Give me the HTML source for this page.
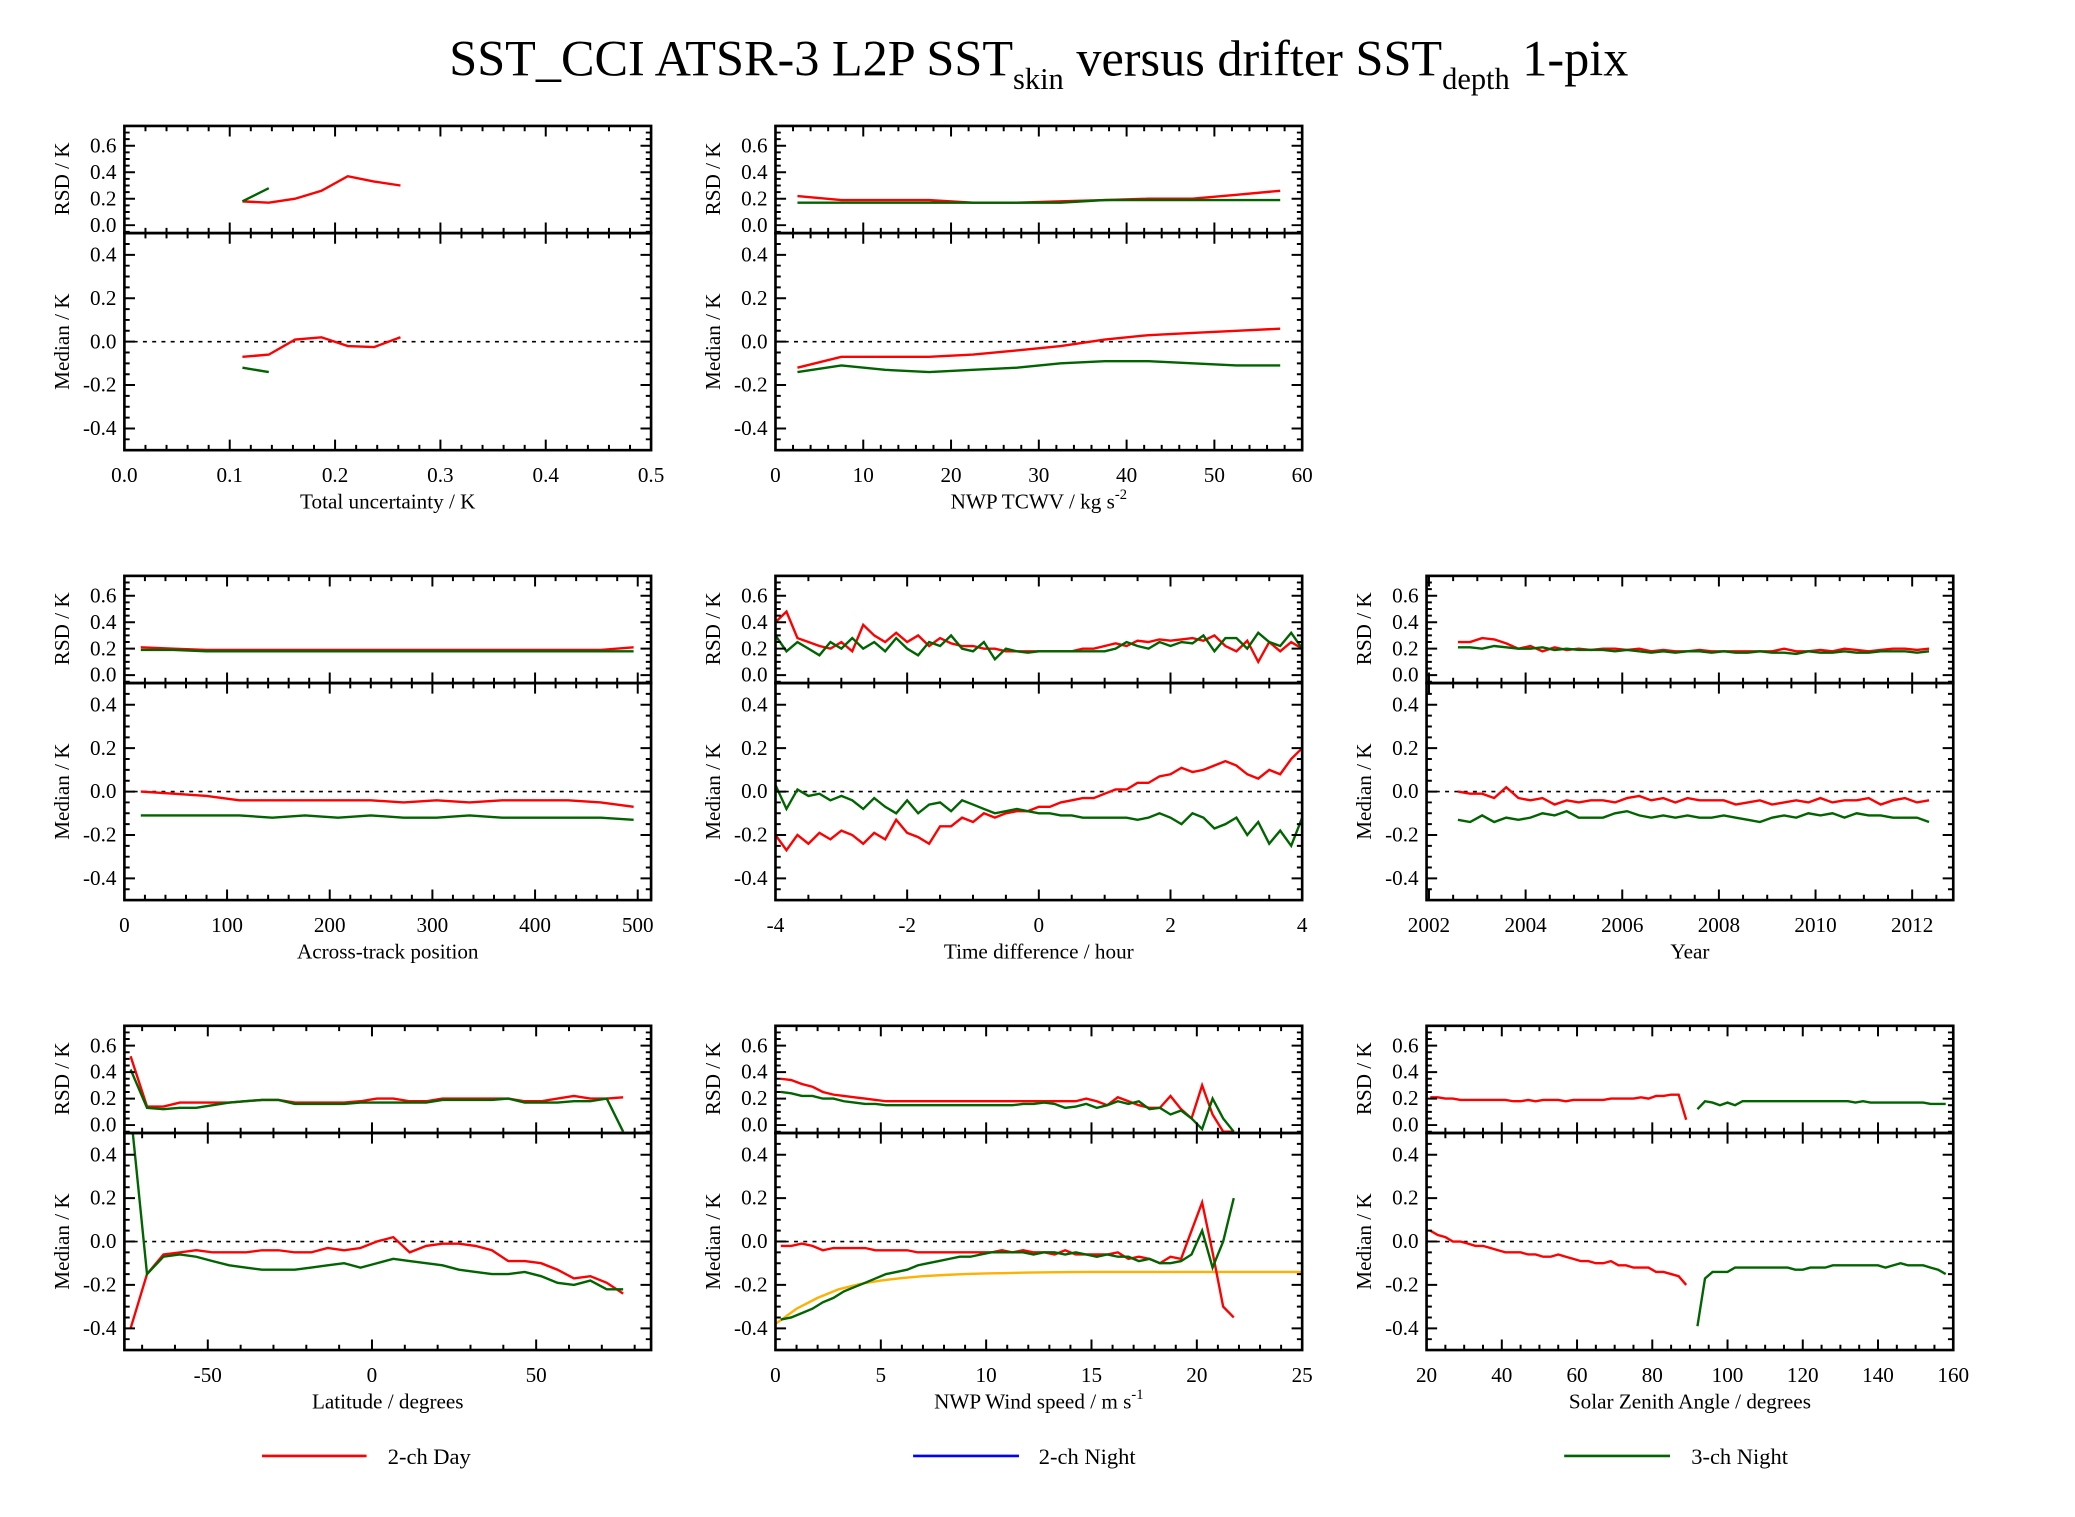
<!DOCTYPE html>
<html><head><meta charset="utf-8"><style>
html,body{margin:0;padding:0;background:#fff}
svg{display:block}
text{font-family:"Liberation Serif",serif;fill:#000}
</style></head><body>
<svg id="fig" xmlns="http://www.w3.org/2000/svg" width="2075" height="1517" viewBox="0 0 1568 1146">
<rect width="1568" height="1146" fill="#fff"/>
<text x="785" y="57" text-anchor="middle" font-size="38">SST_CCI ATSR-3 L2P SST<tspan font-size="23" dy="10">skin</tspan><tspan dy="-10"> versus drifter SST</tspan><tspan font-size="23" dy="10">depth</tspan><tspan dy="-10"> 1-pix</tspan></text>
<g id="panels"></g>
<g>
<line x1="198" y1="1100" x2="277" y2="1100" stroke="#f00" stroke-width="2"/>
<text x="293" y="1106" font-size="17">2-ch Day</text>
<line x1="690" y1="1100" x2="770" y2="1100" stroke="#00f" stroke-width="2"/>
<text x="785" y="1106" font-size="17">2-ch Night</text>
<line x1="1182" y1="1100" x2="1262" y2="1100" stroke="#006400" stroke-width="2"/>
<text x="1278" y="1106" font-size="17">3-ch Night</text>
</g>
</svg>
<script>
// ---- data ----
const uncX=[0.112,0.137,0.162,0.187,0.212,0.237,0.262];
const uncRedRsd=[0.18,0.17,0.20,0.26,0.37,0.33,0.30];
const uncRedMed=[-0.07,-0.06,0.01,0.02,-0.02,-0.025,0.02];
const uncGrnX=[0.112,0.137];
const uncGrnRsd=[0.18,0.28];
const uncGrnMed=[-0.12,-0.14];

const tcwvX=[2.5,7.5,12.5,17.5,22.5,27.5,32.5,37.5,42.5,47.5,52.5,57.5];
const tcwvRedRsd=[0.22,0.19,0.19,0.19,0.17,0.17,0.18,0.19,0.2,0.2,0.23,0.26];
const tcwvGrnRsd=[0.17,0.17,0.17,0.17,0.17,0.17,0.17,0.19,0.19,0.19,0.19,0.19];
const tcwvRedMed=[-0.12,-0.07,-0.07,-0.07,-0.06,-0.04,-0.02,0.01,0.03,0.04,0.05,0.06];
const tcwvGrnMed=[-0.14,-0.11,-0.13,-0.14,-0.13,-0.12,-0.10,-0.09,-0.09,-0.10,-0.11,-0.11];

const atX=[16,48,80,112,144,176,208,240,272,304,336,368,400,432,464,496];
const atRedRsd=[0.21,0.2,0.19,0.19,0.19,0.19,0.19,0.19,0.19,0.19,0.19,0.19,0.19,0.19,0.19,0.21];
const atGrnRsd=[0.19,0.19,0.18,0.18,0.18,0.18,0.18,0.18,0.18,0.18,0.18,0.18,0.18,0.18,0.18,0.18];
const atRedMed=[0,-0.01,-0.02,-0.04,-0.04,-0.04,-0.04,-0.04,-0.05,-0.04,-0.05,-0.04,-0.04,-0.04,-0.05,-0.07];
const atGrnMed=[-0.11,-0.11,-0.11,-0.11,-0.12,-0.11,-0.12,-0.11,-0.12,-0.12,-0.11,-0.12,-0.12,-0.12,-0.12,-0.13];

const tdRedMed=[-0.2,-0.27,-0.2,-0.24,-0.19,-0.22,-0.18,-0.2,-0.24,-0.19,-0.22,-0.13,-0.19,-0.21,-0.24,-0.16,-0.16,-0.12,-0.14,-0.10,-0.12,-0.10,-0.09,-0.09,-0.07,-0.07,-0.05,-0.04,-0.03,-0.03,-0.01,0.01,0.01,0.04,0.04,0.07,0.08,0.11,0.09,0.10,0.12,0.14,0.12,0.08,0.06,0.10,0.08,0.15,0.20];
const tdGrnMed=[0.03,-0.08,0.01,-0.02,-0.01,-0.04,-0.02,-0.04,-0.08,-0.03,-0.07,-0.10,-0.04,-0.10,-0.06,-0.05,-0.09,-0.04,-0.06,-0.08,-0.10,-0.09,-0.08,-0.09,-0.10,-0.10,-0.11,-0.11,-0.12,-0.12,-0.12,-0.12,-0.12,-0.13,-0.12,-0.10,-0.12,-0.15,-0.10,-0.12,-0.17,-0.15,-0.12,-0.20,-0.14,-0.24,-0.18,-0.25,-0.12];
const tdRedRsd=[0.4,0.48,0.28,0.25,0.22,0.20,0.25,0.18,0.38,0.30,0.25,0.32,0.25,0.30,0.22,0.28,0.24,0.22,0.22,0.2,0.2,0.18,0.18,0.18,0.18,0.18,0.18,0.18,0.2,0.2,0.22,0.24,0.22,0.26,0.25,0.27,0.26,0.27,0.28,0.26,0.30,0.22,0.18,0.26,0.10,0.25,0.18,0.25,0.2];
const tdGrnRsd=[0.3,0.18,0.25,0.2,0.15,0.25,0.2,0.28,0.2,0.25,0.18,0.28,0.2,0.15,0.25,0.22,0.3,0.2,0.18,0.25,0.12,0.2,0.18,0.17,0.18,0.18,0.18,0.18,0.18,0.18,0.18,0.2,0.25,0.22,0.2,0.25,0.22,0.25,0.24,0.3,0.18,0.28,0.28,0.2,0.32,0.25,0.22,0.32,0.2];
const tdX=tdRedMed.map((_,i)=>-4+8*i/(tdRedMed.length-1));

const yrX=[];for(let i=0;i<40;i++)yrX.push(2002.6+0.25*i);
const yrRedMed=[0.0,-0.01,-0.01,-0.03,0.02,-0.03,-0.04,-0.03,-0.06,-0.04,-0.05,-0.04,-0.04,-0.05,-0.03,-0.02,-0.04,-0.03,-0.05,-0.03,-0.04,-0.04,-0.04,-0.06,-0.05,-0.04,-0.06,-0.05,-0.04,-0.05,-0.03,-0.05,-0.04,-0.04,-0.03,-0.06,-0.04,-0.03,-0.05,-0.04];
const yrGrnMed=[-0.13,-0.14,-0.11,-0.14,-0.12,-0.13,-0.12,-0.10,-0.11,-0.09,-0.12,-0.12,-0.12,-0.10,-0.09,-0.11,-0.12,-0.11,-0.12,-0.11,-0.12,-0.12,-0.11,-0.12,-0.13,-0.14,-0.12,-0.11,-0.12,-0.10,-0.11,-0.10,-0.12,-0.10,-0.11,-0.11,-0.12,-0.12,-0.12,-0.14];
const yrRedRsd=[0.25,0.25,0.28,0.27,0.24,0.2,0.22,0.18,0.21,0.19,0.2,0.19,0.2,0.2,0.19,0.2,0.18,0.19,0.18,0.18,0.19,0.18,0.18,0.18,0.18,0.18,0.18,0.2,0.18,0.18,0.19,0.18,0.2,0.19,0.18,0.19,0.2,0.2,0.19,0.2];
const yrGrnRsd=[0.21,0.21,0.2,0.22,0.21,0.2,0.2,0.21,0.19,0.2,0.19,0.19,0.19,0.18,0.19,0.18,0.17,0.18,0.17,0.18,0.18,0.17,0.18,0.17,0.17,0.18,0.17,0.17,0.16,0.18,0.17,0.17,0.18,0.17,0.17,0.18,0.18,0.18,0.17,0.18];

const latX=[];for(let i=0;i<31;i++)latX.push(-73.5+5*i);
const latRedMed=[-0.4,-0.15,-0.06,-0.05,-0.04,-0.05,-0.05,-0.05,-0.04,-0.04,-0.05,-0.05,-0.03,-0.04,-0.03,0.0,0.02,-0.05,-0.02,-0.01,-0.01,-0.02,-0.04,-0.09,-0.09,-0.10,-0.13,-0.17,-0.16,-0.19,-0.24];
const latGrnMed=[0.6,-0.15,-0.07,-0.06,-0.07,-0.09,-0.11,-0.12,-0.13,-0.13,-0.13,-0.12,-0.11,-0.10,-0.12,-0.10,-0.08,-0.09,-0.10,-0.11,-0.13,-0.14,-0.15,-0.15,-0.14,-0.16,-0.19,-0.20,-0.18,-0.22,-0.22];
const latRedRsd=[0.52,0.14,0.14,0.17,0.17,0.17,0.17,0.18,0.19,0.19,0.17,0.17,0.17,0.17,0.18,0.2,0.2,0.18,0.18,0.2,0.2,0.2,0.2,0.2,0.18,0.18,0.2,0.22,0.2,0.2,0.21];
const latGrnRsd=[0.42,0.13,0.12,0.13,0.13,0.15,0.17,0.18,0.19,0.19,0.16,0.16,0.16,0.16,0.17,0.17,0.17,0.17,0.17,0.19,0.19,0.19,0.19,0.2,0.17,0.17,0.17,0.18,0.18,0.2,-0.05];

const wsX=[];for(let i=0;i<44;i++)wsX.push(0.25+0.5*i);
const wsRedMed=[-0.02,-0.02,-0.01,-0.02,-0.04,-0.03,-0.03,-0.03,-0.03,-0.04,-0.04,-0.04,-0.04,-0.05,-0.05,-0.05,-0.05,-0.05,-0.05,-0.05,-0.05,-0.04,-0.05,-0.04,-0.05,-0.05,-0.06,-0.04,-0.06,-0.06,-0.06,-0.06,-0.05,-0.08,-0.07,-0.08,-0.10,-0.07,-0.08,0.05,0.18,-0.05,-0.30,-0.35];
const wsGrnMed=[-0.36,-0.35,-0.33,-0.31,-0.28,-0.26,-0.23,-0.21,-0.19,-0.17,-0.15,-0.14,-0.13,-0.11,-0.10,-0.09,-0.08,-0.07,-0.07,-0.06,-0.05,-0.05,-0.05,-0.05,-0.06,-0.05,-0.05,-0.06,-0.05,-0.06,-0.07,-0.06,-0.07,-0.07,-0.09,-0.08,-0.10,-0.10,-0.09,-0.06,0.05,-0.12,0.0,0.20];
const wsRedRsd=[0.35,0.34,0.31,0.29,0.25,0.23,0.22,0.21,0.2,0.19,0.18,0.18,0.18,0.18,0.18,0.18,0.18,0.18,0.18,0.18,0.18,0.18,0.18,0.18,0.18,0.18,0.18,0.18,0.18,0.2,0.18,0.15,0.21,0.18,0.15,0.13,0.13,0.22,0.12,0.05,0.30,0.08,-0.05,-0.05];
const wsGrnRsd=[0.25,0.24,0.22,0.22,0.2,0.2,0.18,0.17,0.16,0.16,0.15,0.15,0.15,0.15,0.15,0.15,0.15,0.15,0.15,0.15,0.15,0.15,0.15,0.16,0.16,0.17,0.16,0.13,0.14,0.16,0.13,0.15,0.18,0.16,0.18,0.12,0.13,0.08,0.11,0.05,-0.03,0.2,0.05,-0.05];
const wsModelX=[0,1,2,3,4,5,6,7,8,9,10,11,12,13,14,15,17,20,25];
const wsModelMed=[-0.38,-0.31,-0.26,-0.22,-0.196,-0.18,-0.168,-0.16,-0.154,-0.15,-0.147,-0.145,-0.143,-0.142,-0.141,-0.14,-0.14,-0.14,-0.14];

const szaRedX=[];for(let i=0;i<35;i++)szaRedX.push(21+2*i);
const szaRedMed=[0.05,0.03,0.02,0.0,0.0,-0.01,-0.02,-0.02,-0.03,-0.04,-0.05,-0.05,-0.05,-0.06,-0.06,-0.07,-0.07,-0.06,-0.07,-0.08,-0.09,-0.09,-0.10,-0.10,-0.09,-0.11,-0.11,-0.12,-0.12,-0.12,-0.14,-0.14,-0.15,-0.16,-0.20];
const szaRedRsd=[0.21,0.21,0.2,0.2,0.19,0.19,0.19,0.19,0.19,0.19,0.19,0.18,0.18,0.19,0.18,0.19,0.19,0.19,0.18,0.19,0.19,0.19,0.19,0.19,0.2,0.2,0.2,0.2,0.21,0.2,0.22,0.22,0.23,0.23,0.04];
const szaGrnX=[];for(let i=0;i<34;i++)szaGrnX.push(92+2*i);
const szaGrnMed=[-0.39,-0.17,-0.14,-0.14,-0.14,-0.12,-0.12,-0.12,-0.12,-0.12,-0.12,-0.12,-0.12,-0.13,-0.13,-0.12,-0.12,-0.12,-0.11,-0.11,-0.11,-0.11,-0.11,-0.11,-0.11,-0.12,-0.11,-0.10,-0.11,-0.11,-0.11,-0.12,-0.13,-0.15];
const szaGrnRsd=[0.12,0.18,0.17,0.15,0.17,0.15,0.18,0.18,0.18,0.18,0.18,0.18,0.18,0.18,0.18,0.18,0.18,0.18,0.18,0.18,0.18,0.17,0.18,0.17,0.17,0.17,0.17,0.17,0.17,0.17,0.17,0.16,0.16,0.16];

const RED='#ff0000',GRN='#006400',ORG='#ffb000';
const panels=[
 {name:'total-uncertainty',col:0,row:0,xmin:0,xmax:0.5,ticks:[0,0.1,0.2,0.3,0.4,0.5],labels:['0.0','0.1','0.2','0.3','0.4','0.5'],minor:0.02,title:'Total uncertainty / K',
  s:[{x:uncX,r:uncRedRsd,m:uncRedMed,c:RED},{x:uncGrnX,r:uncGrnRsd,m:uncGrnMed,c:GRN}]},
 {name:'tcwv',col:1,row:0,xmin:0,xmax:60,ticks:[0,10,20,30,40,50,60],labels:['0','10','20','30','40','50','60'],minor:2,title:'NWP TCWV / kg s<tspan font-size="11" dy="-7">-2</tspan>',
  s:[{x:tcwvX,r:tcwvRedRsd,m:tcwvRedMed,c:RED},{x:tcwvX,r:tcwvGrnRsd,m:tcwvGrnMed,c:GRN}]},
 {name:'across-track',col:0,row:1,xmin:0,xmax:513,ticks:[0,100,200,300,400,500],labels:['0','100','200','300','400','500'],minor:20,title:'Across-track position',
  s:[{x:atX,r:atRedRsd,m:atRedMed,c:RED},{x:atX,r:atGrnRsd,m:atGrnMed,c:GRN}]},
 {name:'time-difference',col:1,row:1,xmin:-4,xmax:4,ticks:[-4,-2,0,2,4],labels:['-4','-2','0','2','4'],minor:0.5,title:'Time difference / hour',
  s:[{x:tdX,r:tdRedRsd,m:tdRedMed,c:RED},{x:tdX,r:tdGrnRsd,m:tdGrnMed,c:GRN}]},
 {name:'year',col:2,row:1,xmin:2001.95,xmax:2012.85,ticks:[2002,2004,2006,2008,2010,2012],labels:['2002','2004','2006','2008','2010','2012'],minor:0.5,title:'Year',
  s:[{x:yrX,r:yrRedRsd,m:yrRedMed,c:RED},{x:yrX,r:yrGrnRsd,m:yrGrnMed,c:GRN}]},
 {name:'latitude',col:0,row:2,xmin:-75.4,xmax:85,ticks:[-50,0,50],labels:['-50','0','50'],minor:10,title:'Latitude / degrees',
  s:[{x:latX,r:latRedRsd,m:latRedMed,c:RED},{x:latX,r:latGrnRsd,m:latGrnMed,c:GRN}]},
 {name:'wind-speed',col:1,row:2,xmin:0,xmax:25,ticks:[0,5,10,15,20,25],labels:['0','5','10','15','20','25'],minor:1,title:'NWP Wind speed / m s<tspan font-size="11" dy="-7">-1</tspan>',
  s:[{x:wsModelX,r:null,m:wsModelMed,c:ORG},{x:wsX,r:wsRedRsd,m:wsRedMed,c:RED},{x:wsX,r:wsGrnRsd,m:wsGrnMed,c:GRN}]},
 {name:'solar-zenith',col:2,row:2,xmin:20,xmax:160,ticks:[20,40,60,80,100,120,140,160],labels:['20','40','60','80','100','120','140','160'],minor:5,title:'Solar Zenith Angle / degrees',
  s:[{x:szaRedX,r:szaRedRsd,m:szaRedMed,c:RED},{x:szaGrnX,r:szaGrnRsd,m:szaGrnMed,c:GRN}]}
];
const COLL=[94,586,1078],ROWT=[95,435,775],W=398,HR=81,HM=164;
const NS='http://www.w3.org/2000/svg';
const root=document.getElementById('panels');
function mk(tag,attrs,parent){const e=document.createElementNS(NS,tag);for(const k in attrs)e.setAttribute(k,attrs[k]);parent.appendChild(e);return e;}
let cid=0;
panels.forEach(p=>{
 const L=COLL[p.col],T=ROWT[p.row],R=L+W,TM=T+HR,B=TM+HM;
 const g=mk('g',{},root);
 
 
 const sx=v=>L+(v-p.xmin)/(p.xmax-p.xmin)*W;
 const yR=v=>T+(0.75-v)*100;
 const yM=v=>TM+(0.5-v)*HM;
 const c1='c'+(cid++),c2='c'+(cid++);
 const cp1=mk('clipPath',{id:c1},g);mk('rect',{x:L,y:T,width:W,height:HR},cp1);
 const cp2=mk('clipPath',{id:c2},g);mk('rect',{x:L,y:TM,width:W,height:HM},cp2);
 const z=mk('line',{x1:L,x2:R,y1:yM(0),y2:yM(0),stroke:'#000','stroke-width':1.2,'stroke-dasharray':'3,4'},g);
 
 
 p.s.forEach(s=>{
  if(s.r){
   const pts=s.x.map((x,i)=>sx(x).toFixed(1)+','+yR(s.r[i]).toFixed(1)).join(' ');
   const pl=mk('polyline',{points:pts,fill:'none',stroke:s.c,'stroke-width':1.8,'clip-path':'url(#'+c1+')'},g);
   
   
  }
  const pts2=s.x.map((x,i)=>sx(x).toFixed(1)+','+yM(s.m[i]).toFixed(1)).join(' ');
  const pl2=mk('polyline',{points:pts2,fill:'none',stroke:s.c,'stroke-width':1.8,'clip-path':'url(#'+c2+')'},g);
  
  
 });
 mk('rect',{x:L,y:T,width:W,height:HR,fill:'none',stroke:'#000','stroke-width':2},g);
 mk('rect',{x:L,y:TM,width:W,height:HM,fill:'none',stroke:'#000','stroke-width':2},g);
 let d='';
 for(let k=0;k<=15;k++){const v=-0.05+k*0.05;const y=yR(v);if(y<T+1||y>TM-1)continue;const maj=Math.abs(v/0.2-Math.round(v/0.2))<1e-6;const len=maj?8:4;d+=`M${L},${y}h${len}M${R},${y}h${-len}`;}
 for(let k=-10;k<=10;k++){const v=k*0.05;const y=yM(v);if(y<TM+1||y>B-1)continue;const maj=k%4===0;const len=maj?8:4;d+=`M${L},${y}h${len}M${R},${y}h${-len}`;}
 const start=Math.ceil((p.xmin-1e-9)/p.minor)*p.minor;
 for(let v=start;v<=p.xmax+1e-9;v+=p.minor){const x=sx(v);if(x<L+1||x>R-1)continue;const maj=p.ticks.some(t=>Math.abs(t-v)<1e-6);const len=maj?8:4;d+=`M${x},${B}v${-len}M${x},${TM}v${-len}M${x},${TM}v${len}M${x},${T}v${len}`;}
 mk('path',{d:d,stroke:'#000','stroke-width':1.5,fill:'none'},g);
 [[0.6,'0.6'],[0.4,'0.4'],[0.2,'0.2'],[0.0,'0.0']].forEach(([v,t])=>{const e=mk('text',{x:L-6,y:yR(v)+5,'text-anchor':'end','font-size':16},g);e.textContent=t;});
 [[0.4,'0.4'],[0.2,'0.2'],[0.0,'0.0'],[-0.2,'-0.2'],[-0.4,'-0.4']].forEach(([v,t])=>{const e=mk('text',{x:L-6,y:yM(v)+5,'text-anchor':'end','font-size':16},g);e.textContent=t;});
 const t1=mk('text',{transform:`translate(${L-42},${T+40}) rotate(-90)`,'text-anchor':'middle','font-size':16},g);t1.textContent='RSD / K';
 
 
 const t2=mk('text',{transform:`translate(${L-42},${TM+82}) rotate(-90)`,'text-anchor':'middle','font-size':16},g);t2.textContent='Median / K';
 
 
 p.ticks.forEach((v,i)=>{const e=mk('text',{x:sx(v),y:B+24,'text-anchor':'middle','font-size':16},g);e.textContent=p.labels[i];});
 const xt=mk('text',{x:L+W/2,y:B+44,'text-anchor':'middle','font-size':16},g);xt.innerHTML=p.title;
 
 
});
</script>
</body></html>
